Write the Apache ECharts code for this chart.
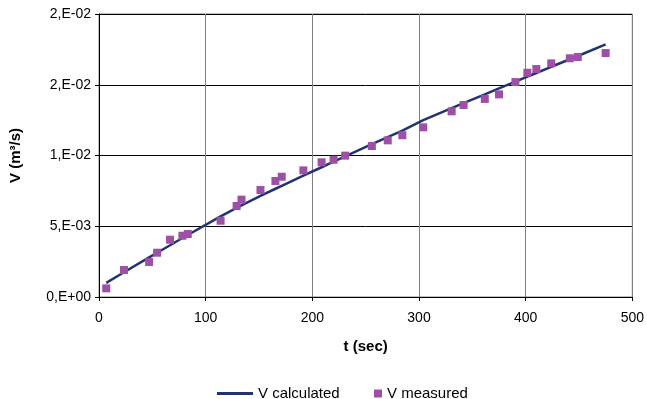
<!DOCTYPE html>
<html>
<head>
<meta charset="utf-8">
<script src="https://cdn.jsdelivr.net/npm/echarts@6/dist/echarts.min.js"></script>
<style>
  html, body { margin: 0; padding: 0; background: #fff; }
  #chart { width: 647px; height: 399px; }
</style>
</head>
<body>
<div id="chart"></div>
<script>
// Measured flow rate samples: time (s) and V (m³/s)
const tMeasured = [6.8, 23.4, 47, 54.5, 66.6, 78.2, 83.2, 114, 129, 133.6, 151.4, 165.4, 171.3,
  191.6, 208.7, 219.9, 230.8, 255.8, 270.7, 284.4, 304, 330.6, 341.8, 361.7, 375, 390.4,
  401.6, 410, 424, 441.4, 448.9, 475];
const vMeasured = [0.00061, 0.00191, 0.00247, 0.00313, 0.00405, 0.00433, 0.00445, 0.00539,
  0.00643, 0.00688, 0.00756, 0.0082, 0.0085, 0.00895, 0.00952, 0.0097, 0.00999, 0.01067,
  0.01107, 0.01143, 0.01199, 0.01312, 0.01357, 0.0140, 0.01432, 0.01519, 0.01585, 0.01611,
  0.01651, 0.01687, 0.01696, 0.01724];
// Model values at the same times
const vCalculated = [0.00100, 0.00175, 0.00280, 0.00313, 0.00366, 0.00417, 0.00438, 0.00570,
  0.00630, 0.00648, 0.00715, 0.00765, 0.00786, 0.00857, 0.00917, 0.00956, 0.00994, 0.01080,
  0.01130, 0.01176, 0.01250, 0.01335, 0.01370, 0.01432, 0.01474, 0.01522, 0.01557, 0.01583,
  0.01627, 0.01680, 0.01703, 0.01786];
// Y tick labels in the 0,E+00 number format
const yTickLabels = ['0,E+00', '5,E-03', '1,E-02', '2,E-02', '2,E-02'];

const font = 'Liberation Sans, Arial, sans-serif';
const chart = echarts.init(document.getElementById('chart'));

chart.setOption({
  animation: false,
  backgroundColor: '#fff',
  grid: { left: 98, right: 14, top: 14, bottom: 102, show: true, borderColor: '#808080', borderWidth: 1 },
  xAxis: {
    type: 'value', min: 0, max: 500, interval: 100,
    name: 't (sec)', nameLocation: 'middle', nameGap: 42,
    nameTextStyle: { fontFamily: font, fontSize: 15, fontWeight: 'bold', color: '#000' },
    axisLine: { show: true, lineStyle: { color: '#000', width: 1 } },
    axisTick: { show: true, inside: false, length: 4, lineStyle: { color: '#000' } },
    axisLabel: { fontFamily: font, fontSize: 14, color: '#000', margin: 14 },
    splitLine: { show: true, lineStyle: { color: '#808080', width: 1 } }
  },
  yAxis: {
    type: 'value', min: 0, max: 0.02, interval: 0.005,
    name: 'V (m³/s)', nameLocation: 'middle', nameGap: 76, nameRotate: 90,
    nameTextStyle: { fontFamily: font, fontSize: 15, fontWeight: 'bold', color: '#000' },
    axisLine: { show: true, lineStyle: { color: '#000', width: 1 } },
    axisTick: { show: true, inside: false, length: 4, lineStyle: { color: '#000' } },
    axisLabel: {
      fontFamily: font, fontSize: 14, color: '#000', margin: 8,
      formatter: v => yTickLabels[Math.round(v / 0.005)]
    },
    splitLine: { show: true, lineStyle: { color: '#000', width: 1 } }
  },
  legend: [
    {
      data: [{ name: 'V calculated', icon: 'rect' }],
      left: 212, top: 381, itemWidth: 36, itemHeight: 3, itemGap: 4,
      textStyle: { fontFamily: font, fontSize: 15, color: '#000' }
    },
    {
      data: [{ name: 'V measured', icon: 'rect' }],
      left: 369, top: 381, itemWidth: 8, itemHeight: 8, itemGap: 4,
      textStyle: { fontFamily: font, fontSize: 15, color: '#000' }
    }
  ],
  series: [
    {
      name: 'V calculated', type: 'line', showSymbol: false, symbol: 'none',
      data: tMeasured.map((t, i) => [t, vCalculated[i]]),
      lineStyle: { color: '#233271', width: 2.5 },
      itemStyle: { color: '#233271' },
      z: 3
    },
    {
      name: 'V measured', type: 'scatter', symbol: 'rect', symbolSize: 8,
      data: tMeasured.map((t, i) => [t, vMeasured[i]]),
      itemStyle: { color: '#9E50A6', opacity: 1 },
      z: 4
    }
  ]
});
</script>
</body>
</html>
